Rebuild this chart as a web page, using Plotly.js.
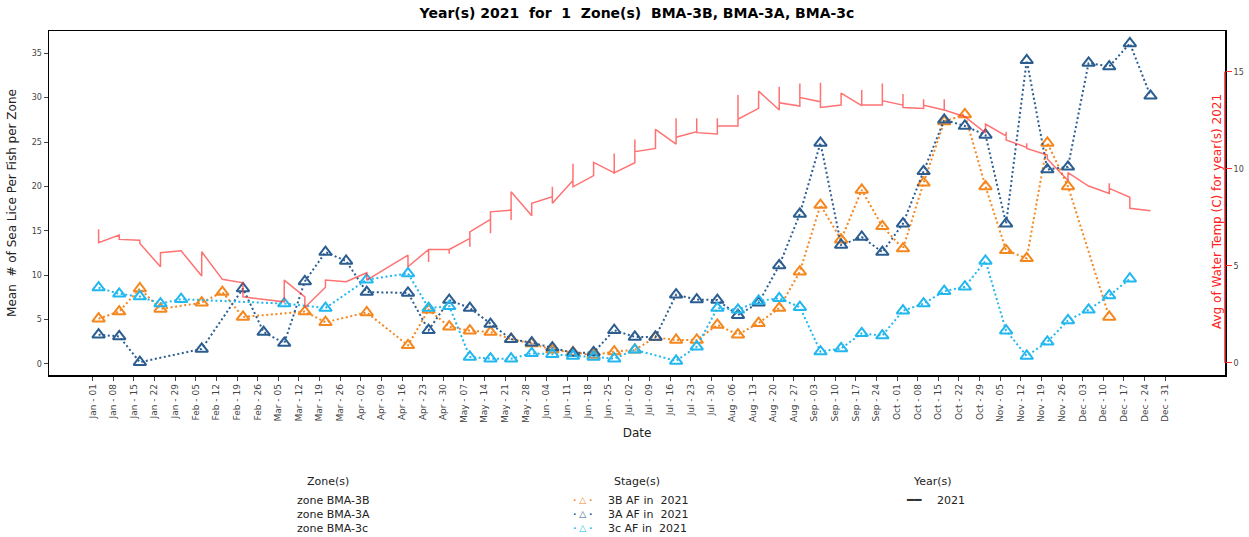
<!DOCTYPE html>
<html>
<head>
<meta charset="utf-8">
<script src="https://cdn.plot.ly/plotly-3.0.1.min.js"></script>
<style>html,body{margin:0;padding:0;background:#fff;}#chart{width:1249px;height:537px;}</style>
</head>
<body>
<div id="chart"></div>
<script>
// ---- Data ----
const sampleDates = [
  "2021-01-03","2021-01-10","2021-01-17","2021-01-24","2021-01-31","2021-02-07","2021-02-14","2021-02-21",
  "2021-02-28","2021-03-07","2021-03-14","2021-03-21","2021-03-28","2021-04-04","2021-04-11","2021-04-18",
  "2021-04-25","2021-05-02","2021-05-09","2021-05-16","2021-05-23","2021-05-30","2021-06-06","2021-06-13",
  "2021-06-20","2021-06-27","2021-07-04","2021-07-11","2021-07-18","2021-07-25","2021-08-01","2021-08-08",
  "2021-08-15","2021-08-22","2021-08-29","2021-09-05","2021-09-12","2021-09-19","2021-09-26","2021-10-03",
  "2021-10-10","2021-10-17","2021-10-24","2021-10-31","2021-11-07","2021-11-14","2021-11-21","2021-11-28",
  "2021-12-05","2021-12-12","2021-12-19","2021-12-26"
];
const lice3B = [
  5.1, 5.9, 8.5, 6.2, null, 6.9, 8.1, 5.3,
  null, null, 5.9, 4.7, null, 5.8, null, 2.1,
  6.1, 4.2, 3.75, 3.6, 2.8, 2.3, 1.6, 1.3,
  1.0, 1.4, 1.6, 3.0, 2.7, 2.7, 4.4, 3.3,
  4.6, 6.3, 10.4, 17.9, 14.0, 19.6, 15.5, 13.0,
  20.4, 27.3, 28.1, 20.0, 12.8, 11.9, 24.9, 20.0,
  null, 5.3, null, null
];
const lice3A = [
  3.3, 3.1, 0.2, null, null, 1.7, null, 8.5,
  3.6, 2.35, 9.3, 12.6, 11.6, 8.1, null, 8.0,
  3.8, 7.2, 6.3, 4.5, 2.8, 2.4, 1.85, 1.25,
  1.3, 3.8, 3.05, 3.05, 7.8, 7.25, 7.2, 5.5,
  6.9, 11.1, 16.9, 24.9, 13.4, 14.3, 12.6, 15.8,
  21.7, 27.5, 26.8, 25.8, 15.8, 34.2, 21.9, 22.2,
  33.9, 33.5, 36.1, 30.2
];
const lice3c = [
  8.6, 7.9, 7.6, 6.8, 7.3, null, null, null,
  null, 6.8, null, 6.3, null, 9.5, null, 10.2,
  6.3, 6.5, 0.8, 0.6, 0.6, 1.2, 1.1, 0.9,
  0.8, 0.6, 1.6, null, 0.35, 1.95, 6.3, 6.1,
  7.1, 7.4, 6.4, 1.4, 1.75, 3.45, 3.2, 6.0,
  6.8, 8.2, 8.7, 11.6, 3.75, 0.9, 2.5, 4.9,
  6.1, 7.7, 9.6, null
];
// water temperature readings: several readings may share one date
const tempReadings = [
  ["2021-01-03",[6.88,6.19]], ["2021-01-10",[6.58,6.36]], ["2021-01-17",[6.32,6.15]],
  ["2021-01-24",[4.95,5.67]], ["2021-01-31",[5.77]], ["2021-02-07",[4.47,5.72]],
  ["2021-02-14",[4.3]], ["2021-02-21",[4.12,3.4]], ["2021-03-07",[3.14,4.26]],
  ["2021-03-14",[3.4,2.85]], ["2021-03-21",[3.89,4.26]], ["2021-03-28",[4.18]],
  ["2021-04-04",[4.64,4.26]], ["2021-04-18",[5.55,4.95]], ["2021-04-25",[5.84,5.2,5.84]],
  ["2021-05-02",[5.84,5.62,5.84]], ["2021-05-09",[6.41,5.98,6.75]], ["2021-05-16",[7.39,6.67,7.78]],
  ["2021-05-23",[7.87,7.36,8.81]], ["2021-05-30",[7.58,8.22]], ["2021-06-06",[8.56,9.07,8.22]],
  ["2021-06-13",[9.4,10.26,9.07]], ["2021-06-20",[9.65,10.33]], ["2021-06-27",[9.79,10.79,9.79]],
  ["2021-07-04",[10.31,11.51,10.88]], ["2021-07-11",[11.05,12.03]], ["2021-07-18",[11.27,12.6,11.62]],
  ["2021-07-25",[11.91,12.6,11.86]], ["2021-08-01",[11.79,12.6,12.2]], ["2021-08-08",[12.2,13.8,12.55]],
  ["2021-08-15",[13.11,14.0]], ["2021-08-22",[13.03,14.23,13.4]], ["2021-08-29",[13.23,14.4,13.68]],
  ["2021-09-05",[13.45,14.43,13.16]], ["2021-09-12",[13.28,13.9]], ["2021-09-19",[13.25,14.06,13.28]],
  ["2021-09-26",[13.28,14.4,13.51]], ["2021-10-03",[13.28,13.85,13.16]], ["2021-10-10",[13.11,13.58,13.28]],
  ["2021-10-17",[13.03,13.58,13.03]], ["2021-10-24",[12.68]], ["2021-10-31",[11.85,12.3]],
  ["2021-11-07",[11.69,11.91,11.48]], ["2021-11-14",[11.1,11.31,11.05]], ["2021-11-21",[10.71,10.5]],
  ["2021-11-28",[9.4,9.8]], ["2021-12-05",[9.11]], ["2021-12-12",[8.73,9.25,8.99]],
  ["2021-12-19",[8.53,7.96]], ["2021-12-26",[7.84]]
];
const tempDates = [], tempVals = [];
tempReadings.forEach(r => r[1].forEach(v => { tempDates.push(r[0]); tempVals.push(v); }));

// weekly tick labels Jan 01 .. Dec 31
const monthNames = ["Jan","Feb","Mar","Apr","May","Jun","Jul","Aug","Sep","Oct","Nov","Dec"];
const tickVals = [], tickText = [];
for (let d = new Date(Date.UTC(2021,0,1)); d <= new Date(Date.UTC(2021,11,31)); d = new Date(d.getTime() + 7*86400000)) {
  const dd = String(d.getUTCDate()).padStart(2,"0");
  tickVals.push(d.toISOString().slice(0,10));
  tickText.push(monthNames[d.getUTCMonth()] + " - " + dd);
}
const leftTicks = [0,5,10,15,20,25,30,35];
const rightTicks = [0,5,10,15];

const stageNames = ["3B AF in \u00A02021","3A AF in \u00A02021","3c AF in \u00A02021"];
const zoneNames = ["zone BMA-3B","zone BMA-3A","zone BMA-3c"];
const colors = {b3:"#f5871f", a3:"#2b5d90", c3:"#22b7ef", temp:"rgba(255,60,60,0.72)"};

// ---- Layout helpers ----
const L = 49, R = 1225, T = 31, B = 375;
const px = x => (x - L) / (R - L);
const py = y => (B - y) / (B - T);

function liceTrace(y, color, name) {
  return {
    x: sampleDates, y: y, name: name, type: "scatter", mode: "lines+markers",
    connectgaps: true, showlegend: false,
    line: {color: color, width: 2, dash: "2px,2.6px"},
    marker: {symbol: "triangle-up-open", size: 11, color: color, line: {width: 2, color: color}}
  };
}

const traces = [
  {x: tempDates, y: tempVals, yaxis: "y2", type: "scatter", mode: "lines", name: "2021",
   showlegend: false, line: {color: colors.temp, width: 1.5}},
  liceTrace(lice3B, colors.b3, stageNames[0]),
  liceTrace(lice3A, colors.a3, stageNames[1]),
  liceTrace(lice3c, colors.c3, stageNames[2])
];

const legendFont = {family: "DejaVu Sans", size: 11, color: "#222"};
const ann = [];
function addText(text, x, y, anchor, font) {
  ann.push({text: text, xref: "paper", yref: "paper", x: px(x), y: py(y), xanchor: anchor, yanchor: "middle",
            showarrow: false, font: font || legendFont});
}
addText("Zone(s)", 328, 482, "center");
addText("Stage(s)", 637, 482, "center");
addText("Year(s)", 932, 482, "center");
const rowsY = [500, 514, 528];
const stageColors = [colors.b3, colors.a3, colors.c3];
zoneNames.forEach((z, i) => addText(z, 295, rowsY[i], "left"));
stageNames.forEach((s, i) => {
  addText("<b>·</b> <b>△</b> <b>·</b>", 583, rowsY[i], "center", {family: "DejaVu Sans", size: 9, color: stageColors[i]});
  addText(s, 606, rowsY[i], "left");
});
addText("━━", 914, rowsY[0], "center", {family: "DejaVu Sans", size: 12, color: "#333"});
addText("2021", 935, rowsY[0], "left");
// right axis title drawn just inside the frame
ann.push({text: "Avg of Water Temp (C) for year(s) 2021", xref: "paper", yref: "paper",
  x: 1, xshift: 1, y: py(212), xanchor: "right", yanchor: "middle", textangle: -90, showarrow: false,
  font: {family: "DejaVu Sans", size: 12, color: "#ff2020"}});

const layout = {
  width: 1249, height: 537,
  margin: {l: L, r: 1249 - R, t: T, b: 537 - B, pad: 0},
  paper_bgcolor: "#fff", plot_bgcolor: "#fff",
  font: {family: "DejaVu Sans", color: "#333"},
  title: {text: "<b>Year(s) 2021 \u00A0for \u00A01 \u00A0Zone(s) \u00A0BMA-3B, BMA-3A, BMA-3c</b>",
          font: {family: "DejaVu Sans", size: 14, color: "#000"},
          xref: "paper", x: 0.5, xanchor: "center", yref: "container", y: 1 - 13/537, yanchor: "middle"},
  showlegend: false,
  xaxis: {
    type: "date", range: ["2020-12-17 04:00", "2022-01-20 07:00"],
    tickmode: "array", tickvals: tickVals, ticktext: tickText, tickangle: -90,
    tickfont: {family: "DejaVu Sans", size: 9, color: "#444"},
    ticks: "outside", ticklen: 4, tickwidth: 1, tickcolor: "#444",
    showline: true, linecolor: "#000", linewidth: 1.5, mirror: true,
    showgrid: false, zeroline: false,
    title: {text: "Date", font: {family: "DejaVu Sans", size: 12, color: "#222"}, standoff: 6}
  },
  yaxis: {
    range: [-1.24, 37.5], tickmode: "array", tickvals: leftTicks,
    tickfont: {family: "DejaVu Sans", size: 8, color: "#444"},
    ticks: "outside", ticklen: 4, tickwidth: 1, tickcolor: "#444",
    showline: true, linecolor: "#000", linewidth: 1.5, mirror: true,
    showgrid: false, zeroline: false,
    title: {text: "Mean \u00A0# of Sea Lice Per Fish per Zone", font: {family: "DejaVu Sans", size: 12, color: "#222"}, standoff: 12}
  },
  yaxis2: {
    overlaying: "y", side: "right", range: [-0.63, 17.1], tickmode: "array", tickvals: rightTicks,
    tickfont: {family: "DejaVu Sans", size: 8, color: "#444"},
    ticks: "outside", ticklen: 6, tickwidth: 1.2, tickcolor: "#ff3030",
    showline: false, showgrid: false, zeroline: false
  },
  shapes: [{type: "line", xref: "paper", x0: 1, x1: 1, yref: "y2", y0: 0, y1: 15,
            line: {color: "#e03030", width: 1.5}}],
  annotations: ann
};

Plotly.newPlot("chart", traces, layout, {displayModeBar: false, staticPlot: true});
</script>
</body>
</html>
